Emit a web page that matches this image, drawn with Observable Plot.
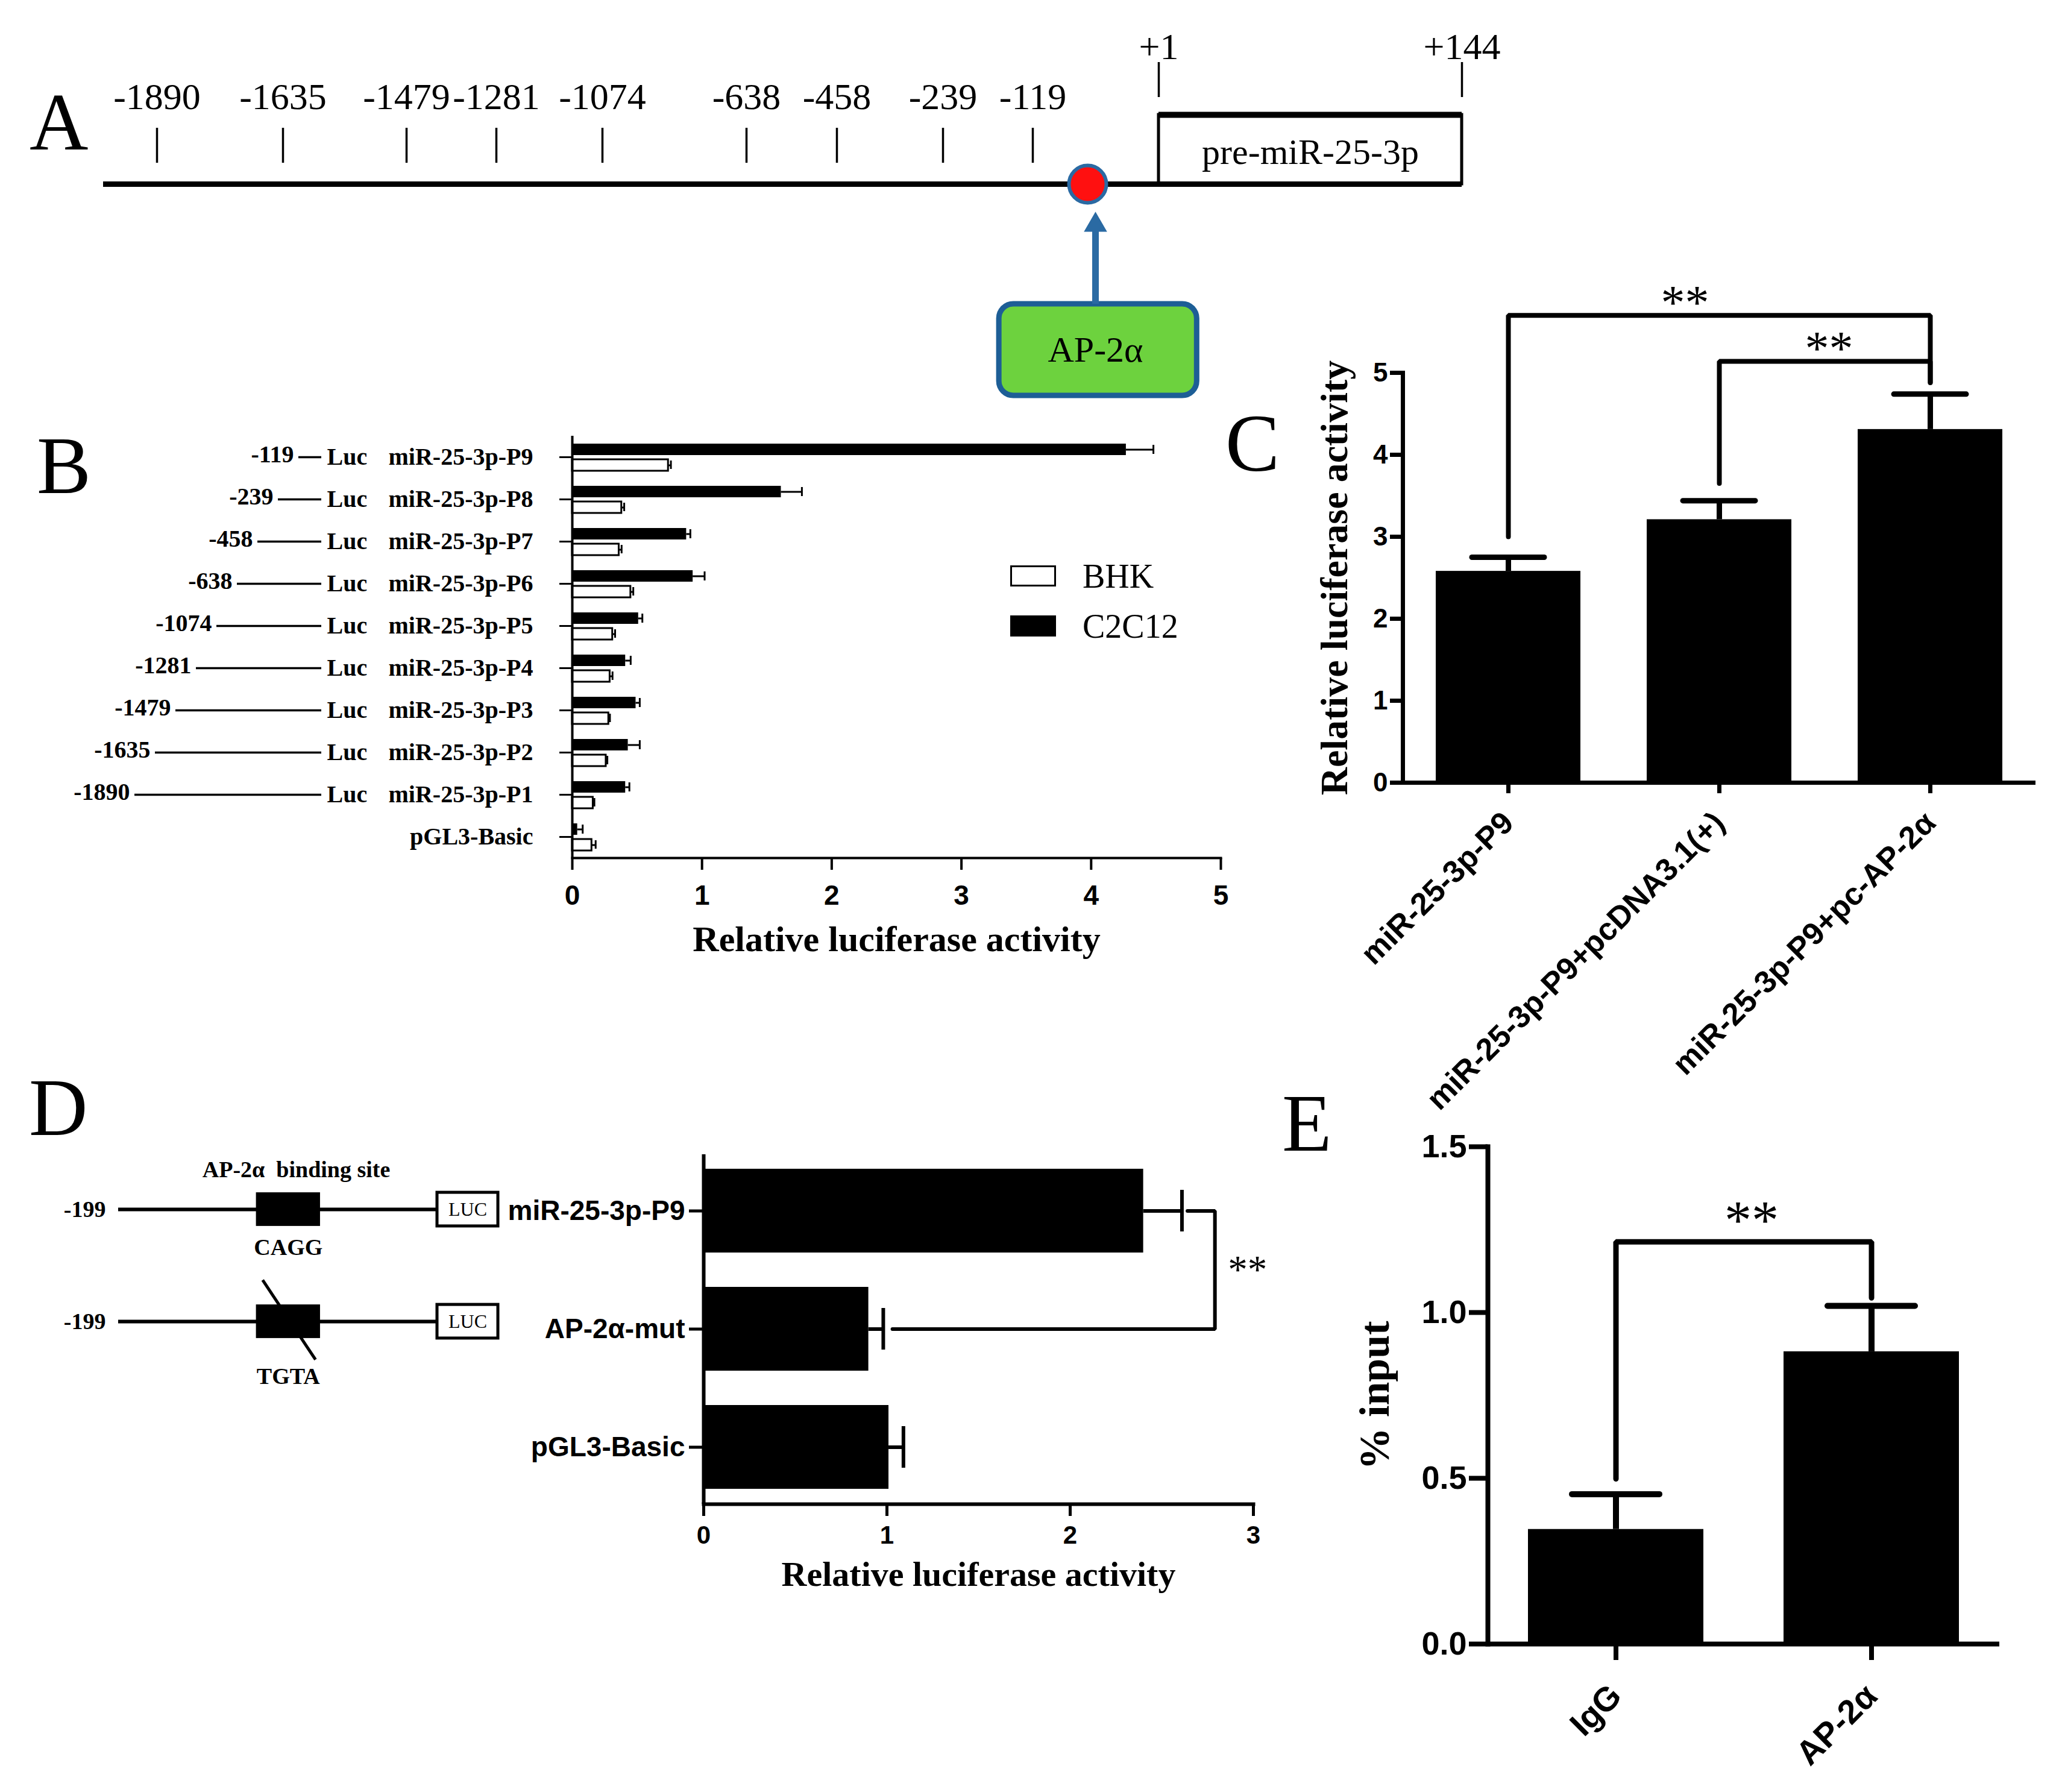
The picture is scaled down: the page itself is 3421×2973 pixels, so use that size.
<!DOCTYPE html>
<html><head><meta charset="utf-8">
<script src="https://cdn.jsdelivr.net/npm/d3@7"></script>
<script src="https://cdn.jsdelivr.net/npm/@observablehq/plot@0.6"></script>
<style>
html,body{margin:0;padding:0;background:#fff;}
#fig{position:relative;width:3421px;height:2973px;background:#fff;overflow:hidden;}
.letter{position:absolute;font-family:"Liberation Serif","Times New Roman",serif;font-size:135px;line-height:135px;color:#000;}
</style></head><body><div id="fig"></div>
<script>
// ================= DATA =================
// Panel A – promoter map
const promoterLabels = ["-1890","-1635","-1479","-1281","-1074","-638","-458","-239","-119"];
const promoterBp = [-1890,-1635,-1479,-1281,-1074,-638,-458,-239,-119];
const tssLabels = ["+1","+144"];
const tssBp = [1,144];
const preMirName = "pre-miR-25-3p";
const factorName = "AP-2α";
const factorSiteBp = -67;
const trackStartBp = -2000;

// Panel B – deletion constructs
const constructsB = ["miR-25-3p-P9","miR-25-3p-P8","miR-25-3p-P7","miR-25-3p-P6","miR-25-3p-P5","miR-25-3p-P4","miR-25-3p-P3","miR-25-3p-P2","miR-25-3p-P1","pGL3-Basic"];
const fragmentStartB = ["-119","-239","-458","-638","-1074","-1281","-1479","-1635","-1890",""];
const cellLinesB = ["BHK","C2C12"];
const bhkB = [0.74,0.38,0.36,0.45,0.31,0.29,0.28,0.26,0.16,0.15];
const bhkErrB = [0.02,0.02,0.02,0.02,0.02,0.02,0.01,0.01,0.01,0.03];
const c2c12B = [4.27,1.61,0.88,0.93,0.51,0.41,0.49,0.43,0.41,0.04];
const c2c12ErrB = [0.21,0.16,0.03,0.09,0.03,0.04,0.03,0.09,0.03,0.04];

// Panel C – overexpression
const groupsC = ["miR-25-3p-P9","miR-25-3p-P9+pcDNA3.1(+)","miR-25-3p-P9+pc-AP-2α"];
const meanC = [2.58,3.21,4.31];
const semC = [0.17,0.23,0.43];
const bracketsC = [
  {from:0, to:2, level:5.70, fromEnd:3.0, toEnd:4.88, label:"**"},
  {from:1, to:2, level:5.14, fromEnd:3.65, toEnd:4.88, label:"**"}
];

// Panel D – site mutation
const constructsD = ["miR-25-3p-P9","AP-2α-mut","pGL3-Basic"];
const meanD = [2.40,0.90,1.01];
const semD = [0.21,0.08,0.08];
const bracketD = {from:0, to:1, level:2.79, fromEnd:2.64, toEnd:1.03, label:"**"};
const schematicD = [
  {row:0, motif:"CAGG", mutated:false},
  {row:1, motif:"TGTA", mutated:true}
];
const schematicStartBp = -199;
const siteFromBp = -113, siteToBp = -73, lucEndBp = 38;

// Panel E – ChIP
const groupsE = ["IgG","AP-2α"];
const meanE = [0.346,0.882];
const semE = [0.106,0.138];
const bracketE = {from:0, to:1, level:1.213, fromEnd:0.498, toEnd:1.044, label:"**"};

// ================= HELPERS =================
const SANS = "'Liberation Sans', Arial, Helvetica, sans-serif";
const SERIF = "'Liberation Serif', 'Times New Roman', serif";
const fig = document.getElementById("fig");
const baseStyle = {fontFamily: SANS, background: "transparent", overflow: "visible", color: "black"};
function place(el, left, top) {
  el.style.position = "absolute";
  el.style.left = left + "px";
  el.style.top = top + "px";
  fig.appendChild(el);
}
function letter(t, left, top) {
  const d = document.createElement("div");
  d.className = "letter"; d.textContent = t;
  d.style.left = left + "px"; d.style.top = top + "px";
  fig.appendChild(d);
}
function bracketPoints(b, cats, k = 0, horizontal = false) {
  const pts = horizontal
    ? [{x:b.fromEnd, y:cats[b.from]}, {x:b.level, y:cats[b.from]}, {x:b.level, y:cats[b.to]}, {x:b.toEnd, y:cats[b.to]}]
    : [{x:cats[b.from], y:b.fromEnd}, {x:cats[b.from], y:b.level}, {x:cats[b.to], y:b.level}, {x:cats[b.to], y:b.toEnd}];
  return pts.map(p => ({...p, id:k}));
}

// ================= PANEL A =================
const aSites = promoterLabels.map((label,i)=>({label, bp:promoterBp[i]}));
const aTss = tssLabels.map((label,i)=>({label, bp:tssBp[i]}));
const panelA = Plot.plot({
  width: 2600, height: 700, margin: 0, style: baseStyle,
  x: {type:"linear", domain:[trackStartBp, ...promoterBp, factorSiteBp, ...tssBp],
      range:[171,260,469,674,823,999,1238,1388,1564,1713,1804,1922,2425], axis:null},
  y: {domain:[-3.95, 3.05], axis:null},
  marks: [
    Plot.ruleY([0], {x1:trackStartBp, x2:tssBp[1], strokeWidth:9}),
    Plot.ruleX(aSites, {x:"bp", y1:0.35, y2:0.93, strokeWidth:3.5}),
    Plot.text(aSites, {x:"bp", y:1.44, text:"label", fontSize:62, fontFamily:SERIF}),
    Plot.rect([preMirName], {x1:tssBp[0], x2:tssBp[1], y1:0, y2:1.15, fill:"white", stroke:"black", strokeWidth:5}),
    Plot.ruleY([1.15], {x1:tssBp[0], x2:tssBp[1], strokeWidth:10}),
    Plot.ruleY([0], {x1:tssBp[0], x2:tssBp[1], strokeWidth:9}),
    Plot.text([preMirName], {x:(tssBp[0]+tssBp[1])/2, y:0.53, text:d=>d, fontSize:60, fontFamily:SERIF}),
    Plot.ruleX(aTss, {x:"bp", y1:1.44, y2:2.02, strokeWidth:3.5}),
    Plot.text(aTss, {x:"bp", y:2.27, text:"label", fontSize:62, fontFamily:SERIF}),
    Plot.rect([factorName], {x1:-164, x2:19, y1:-3.51, y2:-1.99, fill:"#6dd23e", stroke:"#1d5e96", strokeWidth:9, rx:24}),
    Plot.ruleX([factorName], {x:factorSiteBp, y1:-1.99, y2:-0.75, stroke:"#2a6aa3", strokeWidth:11, dx:13}),
    Plot.dot([factorName], {x:factorSiteBp, y:-0.68, symbol:"triangle", r:13, fill:"#2a6aa3", stroke:"#2a6aa3", strokeWidth:2, dx:13}),
    Plot.dot([factorName], {x:factorSiteBp, y:0, r:31, fill:"#ff1010", stroke:"#2a6aa3", strokeWidth:6}),
    Plot.text([factorName], {x:factorSiteBp, y:-2.75, text:d=>d, fontSize:60, fontFamily:SERIF, dx:13})
  ]
});
place(panelA, 0, 0);

// ================= PANEL B =================
const bData = constructsB.map((construct,i)=>({construct, start:fragmentStartB[i], bhk:bhkB[i], bhkErr:bhkErrB[i], c2:c2c12B[i], c2Err:c2c12ErrB[i]}));
const panelB = Plot.plot({
  width: 2100, height: 860, marginLeft: 949, marginRight: 75, marginTop: 23, marginBottom: 137,
  style: baseStyle,
  x: {domain:[0,5]},
  y: {type:"band", domain: constructsB, padding: 0},
  marks: [
    Plot.barX(bData, {y:"construct", x:"c2", fill:"black", insetTop:13, insetBottom:38}),
    Plot.barX(bData, {y:"construct", x:"bhk", fill:"white", stroke:"black", strokeWidth:3, insetTop:39, insetBottom:12}),
    Plot.ruleY(bData, {y:"construct", x1:"c2", x2:d=>d.c2+d.c2Err, dy:-12.5, strokeWidth:3}),
    Plot.tickX(bData, {y:"construct", x:d=>d.c2+d.c2Err, insetTop:15, insetBottom:40, strokeWidth:3}),
    Plot.ruleY(bData, {y:"construct", x1:"bhk", x2:d=>d.bhk+d.bhkErr, dy:13.5, strokeWidth:3}),
    Plot.tickX(bData, {y:"construct", x:d=>d.bhk+d.bhkErr, insetTop:41, insetBottom:15, strokeWidth:3}),
    Plot.ruleX([0], {strokeWidth:4}),
    Plot.frame({anchor:"bottom", strokeWidth:4}),
    Plot.axisY({tickSize:21, tickPadding:44, fontSize:40, fontFamily:SERIF, fontWeight:"bold", strokeWidth:3, label:null}),
    Plot.axisX({ticks:[0,1,2,3,4,5], tickFormat:d3.format("d"), tickSize:20, tickPadding:25, fontSize:46, fontWeight:"bold", strokeWidth:4, label:null}),
    Plot.text(["Relative luciferase activity"], {frameAnchor:"bottom", lineAnchor:"middle", textAnchor:"middle", dy:135, text:d=>d, fontSize:60, fontFamily:SERIF, fontWeight:"bold"})
  ]
});
place(panelB, 0, 700);

// Panel B left annotations (fragment start → Luc)
const annB = bData.filter(d => d.start);
const panelBann = Plot.plot({
  width: 949, height: 860, marginTop: 23, marginBottom: 137, marginLeft: 0, marginRight: 0,
  style: baseStyle,
  x: {type:"point", domain:[...annB.map(d=>d.start).reverse(), "Luc"], range:[214, 521], padding:0, axis:null},
  y: {type:"band", domain: constructsB, padding: 0, axis:null},
  marks: [
    Plot.ruleY(annB, {y:"construct", x1:"start", x2:()=>"Luc", insetLeft:8, insetRight:-12, strokeWidth:3.5}),
    Plot.text(annB, {y:"construct", x:"start", text:"start", textAnchor:"end", dy:-4, fontSize:40, fontFamily:SERIF, fontWeight:"bold"}),
    Plot.text(annB, {y:"construct", x:()=>"Luc", text:()=>"Luc", textAnchor:"start", dx:21, fontSize:40, fontFamily:SERIF, fontWeight:"bold"})
  ]
});
place(panelBann, 0, 700);

// Panel B legend
cellLinesB.forEach((name, i) => {
  const box = document.createElement("div");
  box.style.cssText = `position:absolute;left:1676px;top:${938 + i*83}px;width:76px;height:35px;box-sizing:border-box;border:3px solid #000;background:${name === "BHK" ? "#fff" : "#000"};`;
  fig.appendChild(box);
  const t = document.createElement("div");
  t.textContent = name;
  t.style.cssText = `position:absolute;left:1796px;top:${928 + i*83}px;height:56px;line-height:56px;font-size:56px;font-family:${SERIF};color:#000;`;
  fig.appendChild(t);
});

// ================= PANEL C =================
const cData = groupsC.map((group,i)=>({group, mean:meanC[i], sem:semC[i]}));
const cBrPts = bracketsC.flatMap((b,k)=>bracketPoints(b, groupsC, k));
const panelC = Plot.plot({
  width: 1421, height: 1360, marginLeft: 327, marginRight: 44, marginTop: 178, marginBottom: 502,
  style: baseStyle,
  x: {domain: groupsC, paddingInner: 0.314, paddingOuter: 0.157},
  y: {domain: [0,5]},
  marks: [
    Plot.barY(cData, {x:"group", y:"mean", fill:"black"}),
    Plot.ruleX(cData, {x:"group", y1:"mean", y2:d=>d.mean+d.sem, strokeWidth:9}),
    Plot.tickY(cData, {x:"group", y:d=>d.mean+d.sem, insetLeft:60, insetRight:60, strokeWidth:9, strokeLinecap:"round"}),
    Plot.line(cBrPts, {x:"x", y:"y", z:"id", strokeWidth:8, strokeLinejoin:"miter", strokeLinecap:"round"}),
    Plot.text([bracketsC[0]], {x:()=>groupsC[1], y:"level", text:"label", dx:-57, dy:-20, fontSize:80, fontFamily:SERIF}),
    Plot.text([bracketsC[1]], {x:()=>groupsC[1], y:"level", text:"label", dx:182, dy:-20, fontSize:80, fontFamily:SERIF}),
    Plot.ruleY([0], {strokeWidth:7}),
    Plot.frame({anchor:"left", strokeWidth:7}),
    Plot.axisY({ticks:[0,1,2,3,4,5], tickFormat:d3.format("d"), tickSize:21, tickPadding:4, fontSize:44, fontWeight:"bold", strokeWidth:7, label:null}),
    Plot.axisX({tickSize:18, tickRotate:-45, tickPadding:40, fontSize:52, fontWeight:"bold", strokeWidth:7, label:null}),
    Plot.text(["Relative luciferase activity"], {frameAnchor:"left", textAnchor:"middle", lineAnchor:"middle", rotate:-90, dx:-113, text:d=>d, fontSize:64, fontFamily:SERIF, fontWeight:"bold"})
  ]
});
place(panelC, 2000, 440);

// ================= PANEL D =================
const dData = constructsD.map((construct,i)=>({construct, mean:meanD[i], sem:semD[i]}));
const dBrPts = bracketPoints(bracketD, constructsD, 0, true);
const panelD = Plot.plot({
  width: 1500, height: 800, marginLeft: 467, marginRight: 121, marginTop: 35, marginBottom: 185,
  style: baseStyle,
  x: {domain:[0,3]},
  y: {domain: constructsD, paddingInner: 0.29, paddingOuter: 0.12},
  marks: [
    Plot.barX(dData, {y:"construct", x:"mean", fill:"black"}),
    Plot.ruleY(dData, {y:"construct", x1:"mean", x2:d=>d.mean+d.sem, strokeWidth:6}),
    Plot.tickX(dData, {y:"construct", x:d=>d.mean+d.sem, insetTop:35, insetBottom:35, strokeWidth:6}),
    Plot.line(dBrPts, {x:"x", y:"y", strokeWidth:6, strokeLinejoin:"miter"}),
    Plot.text([bracketD], {x:"level", y:()=>constructsD[1], text:"label", dx:54, dy:-98, fontSize:65, fontFamily:SERIF}),
    Plot.ruleX([0], {strokeWidth:6}),
    Plot.frame({anchor:"bottom", strokeWidth:6}),
    Plot.axisY({tickSize:24, tickPadding:7, fontSize:46, fontWeight:"bold", strokeWidth:5, label:null}),
    Plot.axisX({ticks:[0,1,2,3], tickFormat:d3.format("d"), tickSize:20, tickPadding:16, fontSize:42, fontWeight:"bold", strokeWidth:5, label:null}),
    Plot.text(["Relative luciferase activity"], {frameAnchor:"bottom", lineAnchor:"middle", textAnchor:"middle", dy:117, text:d=>d, fontSize:58, fontFamily:SERIF, fontWeight:"bold"})
  ]
});
place(panelD, 700, 1880);

// Panel D schematic
const panelDs = Plot.plot({
  width: 900, height: 800, margin: 0, style: baseStyle,
  x: {domain:[schematicStartBp, 0], range:[196, 725], axis:null},
  y: {domain:[0, 1], range:[126, 312], axis:null},
  marks: [
    Plot.ruleY(schematicD, {y:"row", x1:schematicStartBp, x2:0, strokeWidth:6}),
    Plot.text(schematicD, {y:"row", x:schematicStartBp, text:()=>String(schematicStartBp), textAnchor:"end", dx:-21, fontSize:38, fontFamily:SERIF, fontWeight:"bold"}),
    Plot.rect(schematicD, {x1:siteFromBp, x2:siteToBp, y1:d=>d.row-0.15, y2:d=>d.row+0.15, fill:"black"}),
    Plot.rect(schematicD, {x1:0, x2:lucEndBp, y1:d=>d.row-0.15, y2:d=>d.row+0.15, fill:"white", stroke:"black", strokeWidth:5}),
    Plot.text(schematicD, {y:"row", x:lucEndBp/2, text:()=>"LUC", fontSize:32, fontFamily:SERIF}),
    Plot.text(schematicD, {x:(siteFromBp+siteToBp)/2, y:d=>d.row + (d.mutated ? 0.49 : 0.34), text:"motif", fontSize:38, fontFamily:SERIF, fontWeight:"bold"}),
    Plot.link(schematicD.filter(d=>d.mutated), {x1:-109, x2:-76, y1:d=>d.row-0.37, y2:d=>d.row+0.34, strokeWidth:5}),
    Plot.text(["AP-2α\u00a0\u00a0binding site"], {x:(siteFromBp+siteToBp)/2 + 5, y:-0.355, text:d=>d, fontSize:38, fontFamily:SERIF, fontWeight:"bold"})
  ]
});
place(panelDs, 0, 1880);

// ================= PANEL E =================
const eData = groupsE.map((group,i)=>({group, mean:meanE[i], sem:semE[i]}));
const eBrPts = bracketPoints(bracketE, groupsE);
const panelE = Plot.plot({
  width: 1321, height: 1140, marginLeft: 368, marginRight: 104, marginTop: 82, marginBottom: 233,
  style: baseStyle,
  x: {domain: groupsE, paddingInner: 0.314, paddingOuter: 0.157},
  y: {domain: [0,1.5]},
  marks: [
    Plot.barY(eData, {x:"group", y:"mean", fill:"black"}),
    Plot.ruleX(eData, {x:"group", y1:"mean", y2:d=>d.mean+d.sem, strokeWidth:10}),
    Plot.tickY(eData, {x:"group", y:d=>d.mean+d.sem, insetLeft:73, insetRight:73, strokeWidth:10, strokeLinecap:"round"}),
    Plot.line(eBrPts, {x:"x", y:"y", strokeWidth:9, strokeLinejoin:"miter", strokeLinecap:"round"}),
    Plot.text([bracketE], {x:()=>groupsE[0], y:"level", text:"label", dx:225, dy:-34, fontSize:90, fontFamily:SERIF}),
    Plot.ruleY([0], {strokeWidth:8}),
    Plot.frame({anchor:"left", strokeWidth:8}),
    Plot.axisY({ticks:[0,0.5,1,1.5], tickFormat:d3.format(".1f"), tickSize:31, tickPadding:4, fontSize:54, fontWeight:"bold", strokeWidth:8, label:null}),
    Plot.axisX({tickSize:27, tickRotate:-45, tickPadding:50, fontSize:56, fontWeight:"bold", strokeWidth:8, label:null}),
    Plot.text(["% input"], {frameAnchor:"left", textAnchor:"middle", lineAnchor:"middle", rotate:-90, dx:-187, text:d=>d, fontSize:70, fontFamily:SERIF, fontWeight:"bold"})
  ]
});
place(panelE, 2100, 1820);

// ================= PANEL LETTERS =================
letter("A", 49, 135);
letter("B", 61, 705);
letter("C", 2033, 668);
letter("D", 48, 1770);
letter("E", 2127, 1796);
</script></body></html>
